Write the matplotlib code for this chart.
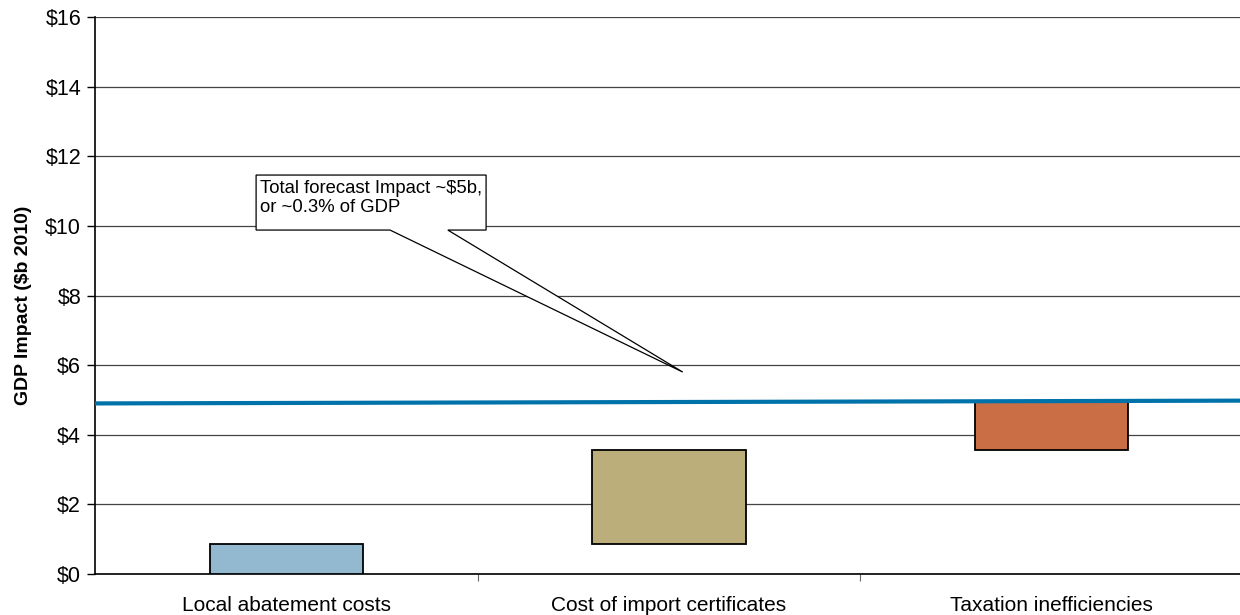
import matplotlib
matplotlib.use('Agg')
import matplotlib.pyplot as plt
from matplotlib.patches import Polygon
import numpy as np

plt.rcParams['font.family'] = ['Liberation Sans', 'DejaVu Sans']

categories = ['Local abatement costs', 'Cost of import certificates', 'Taxation inefficiencies']
bar_bottom = [0.0, 0.85, 3.55]
bar_top = [0.85, 3.55, 4.95]
bar_colors = ['#93b9d0', '#bbae7b', '#c96e45']
total_line = [4.90, 4.98]   # total impact line, left and right end
y_ticks = [0, 2, 4, 6, 8, 10, 12, 14, 16]
note = 'Total forecast Impact ~$5b,\nor ~0.3% of GDP'

fig = plt.figure(figsize=(12.4, 6.15), dpi=100)
ax = fig.add_axes([95 / 1240, 41 / 615, 1148 / 1240, 557 / 615])

x = np.arange(len(categories))
heights = np.array(bar_top) - np.array(bar_bottom)
ax.bar(x, heights, bottom=bar_bottom, width=0.4, color=bar_colors,
       edgecolor='black', linewidth=1.3, zorder=3)

ax.set_xlim(-0.5, 2.5)
ax.set_ylim(0, 16)
ax.plot([-0.5, 2.5], total_line, color='#0072aa', linewidth=3, zorder=4,
        solid_capstyle='butt')

ax.set_yticks(y_ticks)
ax.set_yticklabels(['$%d' % v for v in y_ticks], fontsize=15.5)
ax.yaxis.grid(True, color='#444444', linewidth=0.9, zorder=0)
ax.tick_params(axis='y', length=6, width=1, direction='out', pad=4)

# category names between boundary ticks
ax.set_xticks([0.5, 1.5])
ax.set_xticklabels([])
ax.tick_params(axis='x', length=5, width=0.8, color='#666666', direction='out')
for xi, name in zip(x, categories):
    ax.text(xi, -0.62, name, ha='center', va='top', fontsize=15)

ax.set_ylabel('GDP Impact ($b 2010)', fontsize=14, fontweight='bold')
ax.yaxis.set_label_coords(-0.055, 0.483)

for side in ['top', 'right']:
    ax.spines[side].set_visible(False)
ax.spines['left'].set_linewidth(1.2)
ax.spines['bottom'].set_linewidth(1.2)

# callout box with pointer
bx0, bx1, by0, by1 = -0.079, 0.522, 9.88, 11.46
w0, w1 = 0.271, 0.422
tip = (1.036, 5.8)
callout = Polygon([(bx0, by1), (bx1, by1), (bx1, by0), (w1, by0), tip,
                   (w0, by0), (bx0, by0)], closed=True, facecolor='white',
                  edgecolor='black', linewidth=0.9, zorder=5)
ax.add_patch(callout)
ax.text(bx0 + 0.01, by1 - 0.15, note, ha='left', va='top', fontsize=13.3,
        linespacing=1.1, zorder=6)

fig.savefig('out.png', dpi=100)
